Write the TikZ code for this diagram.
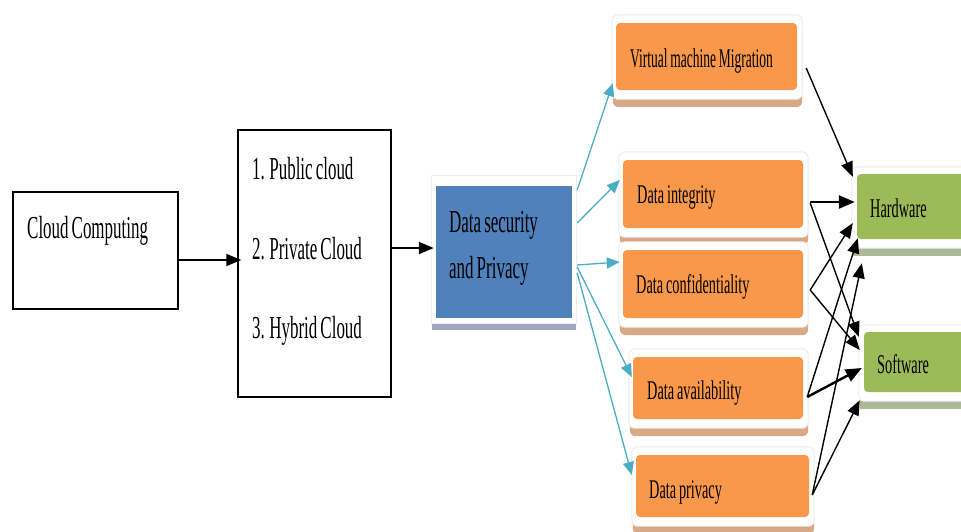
\documentclass[tikz,border=0pt]{standalone}
\usepackage{fontspec}
\setmainfont{Liberation Serif}
\usepackage{graphicx}
\usetikzlibrary{arrows.meta,backgrounds}
\definecolor{orangefill}{HTML}{F9974A}
\definecolor{tanshadow}{HTML}{D7A987}
\definecolor{greenfill}{HTML}{9BBB59}
\definecolor{greenshadow}{HTML}{AAB996}
\definecolor{bluefill}{HTML}{4F81BD}
\definecolor{blueshadow}{HTML}{9EA9BF}
\definecolor{cyanline}{HTML}{4BACC6}
\definecolor{haloedge}{HTML}{EDEDED}
\newcommand{\sqz}[1]{\scalebox{0.53}[1]{#1}}
\newcommand{\bigfnt}{\fontsize{32}{38}\selectfont\spaceskip=0.18em plus 0.05em\relax}
\newcommand{\smallfnt}{\fontsize{27}{32}\selectfont\spaceskip=0.2em plus 0.05em\relax}
\begin{document}
\begin{tikzpicture}[x=1pt,y=-1pt,
  plainbox/.style={draw=black, line width=1.5pt, fill=white, inner sep=0pt},
  obox/.style={fill=orangefill, rounded corners=4pt, inner sep=0pt},
  gbox/.style={fill=greenfill, rounded corners=4pt, inner sep=0pt},
  bbox/.style={fill=bluefill, inner sep=0pt},
  bigtxt/.style={inner sep=0pt, anchor=base west, font=\bigfnt},
  smalltxt/.style={inner sep=0pt, anchor=base west, font=\smallfnt},
  blk/.style={-{Triangle[length=15pt,width=12pt]}, line width=1.4pt, black},
  blkthick/.style={-{Triangle[length=16pt,width=13pt]}, line width=2.4pt, black},
  cy/.style={-{Triangle[length=13pt,width=11pt]}, line width=1.3pt, cyanline}
]
\useasboundingbox (0,0) rectangle (961,531);

% left boxes
\node[plainbox, minimum width=165pt, minimum height=117pt] (cc) at (95.5,250.5) {};
\node[plainbox, minimum width=153pt, minimum height=267pt] (list) at (314.5,263.5) {};
\node[bbox, minimum width=136pt, minimum height=132pt] (blue) at (504,252) {};

% orange boxes
\node[obox, minimum width=181pt, minimum height=67pt] (vm) at (706.5,56.5) {};
\node[obox, minimum width=180pt, minimum height=68pt] (integ) at (713,194) {};
\node[obox, minimum width=180pt, minimum height=68pt] (conf) at (713,284) {};
\node[obox, minimum width=170pt, minimum height=62pt] (avail) at (718,388) {};
\node[obox, minimum width=173pt, minimum height=62pt] (priv) at (722.5,486) {};

% green boxes
\node[gbox, minimum width=118pt, minimum height=65pt] (hw) at (916,206.5) {};
\node[gbox, minimum width=111pt, minimum height=60pt] (sw) at (919.5,362) {};

% shadows and halos
\begin{scope}[on background layer]
  \foreach \n in {vm,integ,conf,avail,priv} {
    \fill[tanshadow, rounded corners=6pt] ([xshift=-3pt,yshift=-17pt]\n.south west) rectangle ([xshift=5pt,yshift=0pt]\n.north east);
    \filldraw[fill=white, draw=haloedge, line width=1pt, rounded corners=6pt] ([xshift=-4pt,yshift=-9pt]\n.south west) rectangle ([xshift=5pt,yshift=8pt]\n.north east);
  }
  \foreach \n in {hw,sw} {
    \fill[greenshadow] ([xshift=-4pt,yshift=-17pt]\n.south west) rectangle ([xshift=8pt,yshift=0pt]\n.north east);
    \filldraw[fill=white, draw=haloedge, line width=1pt, rounded corners=5pt] ([xshift=-5pt,yshift=-9pt]\n.south west) rectangle ([xshift=8pt,yshift=7pt]\n.north east);
  }
  \fill[blueshadow] ([xshift=-4pt,yshift=-12pt]blue.south west) rectangle ([xshift=4pt,yshift=0pt]blue.north east);
  \filldraw[fill=white, draw=haloedge, line width=1pt] ([xshift=-4pt,yshift=-5pt]blue.south west) rectangle ([xshift=4pt,yshift=10pt]blue.north east);
\end{scope}

% texts
\node[bigtxt] (tcc) at (27,238) {\sqz{Cloud Computing}};
\node[bigtxt] (tpub) at (252,179) {\sqz{1. Public cloud}};
\node[bigtxt] (tpri) at (252,259) {\sqz{2. Private Cloud}};
\node[bigtxt] (thyb) at (252,338) {\sqz{3. Hybrid Cloud}};
\node[bigtxt] (tds) at (449,232) {\sqz{Data security}};
\node[bigtxt] (tap) at (449,278) {\sqz{and Privacy}};
\node[smalltxt] (tvm) at (630,67) {\scalebox{0.5}[1]{Virtual machine Migration}};
\node[smalltxt] (tint) at (637,203) {\sqz{Data integrity}};
\node[smalltxt] (tconf) at (636,293) {\sqz{Data confidentiality}};
\node[smalltxt] (tav) at (647,399) {\sqz{Data availability}};
\node[smalltxt] (tpv) at (649,498) {\sqz{Data privacy}};
\node[smalltxt] (thw) at (870,217) {\sqz{Hardware}};
\node[smalltxt] (tsw) at (877,373) {\sqz{Software}};

% left arrows
\draw[blk, line width=1.8pt] ([yshift=-9.5pt]cc.east) -- ([xshift=4pt,yshift=3.5pt]list.west);
\draw[blk, line width=1.8pt] ([yshift=15.5pt]list.east) -- ([xshift=-2pt,yshift=4pt]blue.west);

% cyan arrows
\draw[cy] ([xshift=5pt,yshift=62pt]blue.east) -- ([xshift=-3pt,yshift=7pt]vm.south west);
\draw[cy] ([xshift=5pt,yshift=29pt]blue.east) -- ([xshift=-3pt,yshift=14pt]integ.west);
\draw[cy] ([xshift=5pt,yshift=-13pt]blue.east) -- ([xshift=-3pt,yshift=22pt]conf.west);
\draw[cy] ([xshift=5pt,yshift=-15pt]blue.east) -- ([xshift=-1pt,yshift=11pt]avail.west);
\draw[cy] ([xshift=5pt,yshift=-21pt]blue.east) -- ([xshift=-4pt,yshift=11pt]priv.west);

% black arrows to Hardware
\draw[blk] ([xshift=9pt,yshift=-11.5pt]vm.east) -- ([xshift=-4pt,yshift=-3pt]hw.north west);
\draw[blkthick] ([xshift=7pt,yshift=-8pt]integ.east) -- ([xshift=-2pt,yshift=4.5pt]hw.west);
\draw[blk] ([xshift=7pt,yshift=-6pt]conf.east) -- ([xshift=-4pt,yshift=-16.5pt]hw.west);
\draw[blk] ([xshift=4pt,yshift=-9pt]avail.east) -- ([xshift=1pt,yshift=1pt]hw.south west);
\draw[blk] ([xshift=3pt,yshift=-9pt]priv.east) -- ([xshift=5pt,yshift=-24pt]hw.south west);

% black arrows to Software
\draw[blk] ([xshift=7pt,yshift=-9pt]integ.east) -- ([xshift=-5pt,yshift=-5pt]sw.north west);
\draw[blk] ([xshift=7pt,yshift=-6pt]conf.east) -- ([xshift=-4pt,yshift=12pt]sw.west);
\draw[blkthick] ([xshift=4pt,yshift=-9pt]avail.east) -- ([xshift=-2pt,yshift=-6pt]sw.west);
\draw[blk] ([xshift=3pt,yshift=-9pt]priv.east) -- ([xshift=-4pt,yshift=-8pt]sw.south west);
\end{tikzpicture}
\end{document}
